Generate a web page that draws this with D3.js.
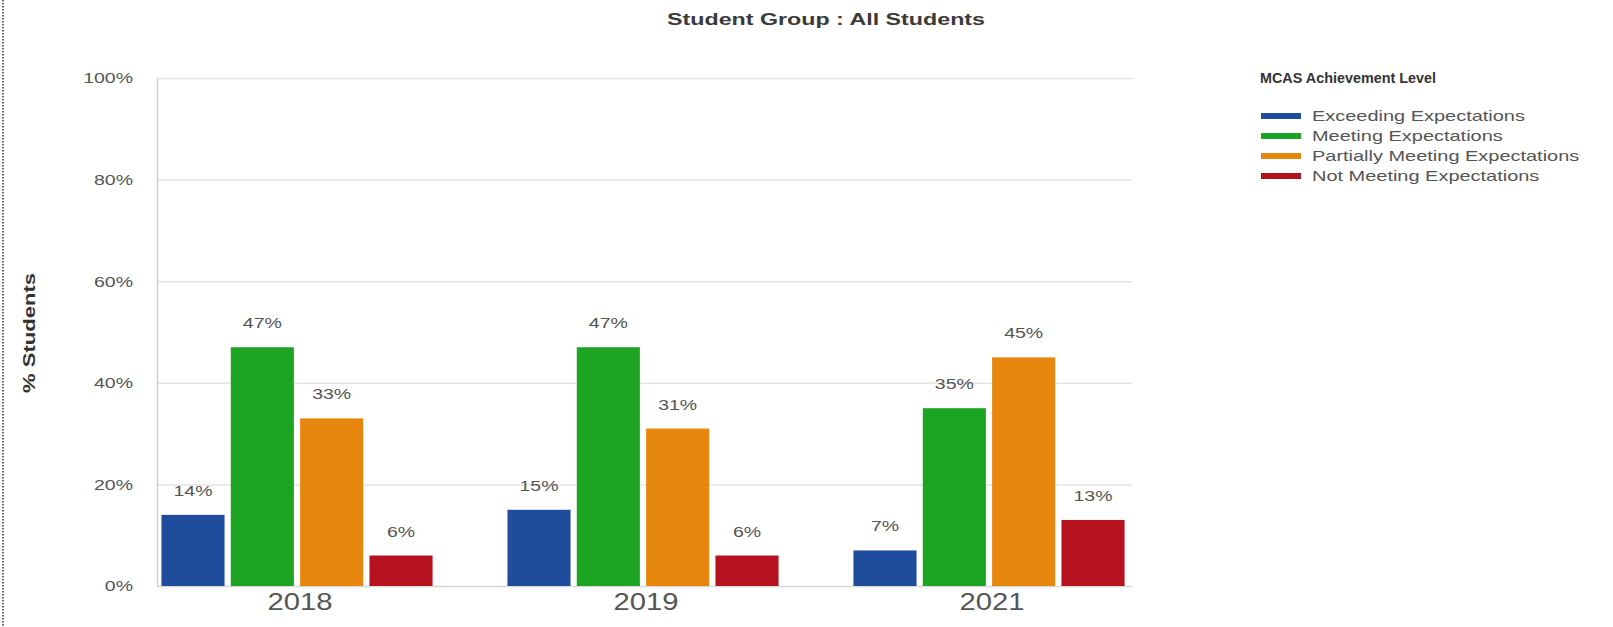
<!DOCTYPE html>
<html>
<head>
<meta charset="utf-8">
<script src="https://cdn.jsdelivr.net/npm/d3@7"></script>
<style>
  html, body { margin: 0; padding: 0; background: #fff; }
  svg { display: block; font-family: "Liberation Sans", Arial, sans-serif; }
</style>
</head>
<body>
<svg id="chart" width="1613" height="627"></svg>
<script>
// Achievement levels (legend order) and their colours
const levels = ["Exceeding Expectations", "Meeting Expectations", "Partially Meeting Expectations", "Not Meeting Expectations"];
const levelColors = ["#1f4c9c", "#1ea423", "#e8870e", "#b5111f"];

// Test years
const years = ["2018", "2019", "2021"];

// Percent of students at each level, per year
const exceeding = [14, 15, 7];
const meeting = [47, 47, 35];
const partially = [33, 31, 45];
const notMeeting = [6, 6, 13];

const yTicks = [0, 20, 40, 60, 80, 100];

const title = "Student Group : All Students";
const yLabel = "% Students";
const legendTitle = "MCAS Achievement Level";

const seriesValues = [exceeding, meeting, partially, notMeeting];

const svg = d3.select("#chart");

// widen a text element horizontally around its anchor
function widen(sel, factor) {
  sel.each(function () {
    const len = this.getComputedTextLength();
    d3.select(this).attr("textLength", len * factor).attr("lengthAdjust", "spacingAndGlyphs");
  });
}

const plot = { left: 157, right: 1132, top: 78, bottom: 586 };

const y = d3.scaleLinear().domain([0, 100]).range([plot.bottom, plot.top]);
const x0 = d3.scaleBand().domain(years).range([124, 1162]);
const x1 = d3.scaleBand().domain(levels).range([0, x0.bandwidth()]).paddingInner(0.09).paddingOuter(0.54);
const color = d3.scaleOrdinal().domain(levels).range(levelColors);

// dotted page edge
svg.append("line")
  .attr("x1", 3).attr("x2", 3).attr("y1", 0).attr("y2", 627)
  .attr("stroke", "#333").attr("stroke-width", 1.5).attr("stroke-dasharray", "1.5,1.5");

// title
svg.append("text")
  .attr("x", 826).attr("y", 25)
  .attr("text-anchor", "middle")
  .attr("font-size", 16).attr("font-weight", "bold").attr("fill", "#3a3a3a")
  .text(title)
  .attr("textLength", 318).attr("lengthAdjust", "spacingAndGlyphs");

// gridlines
svg.append("g").selectAll("line").data(yTicks.filter(d => d > 0)).join("line")
  .attr("x1", plot.left).attr("x2", plot.right)
  .attr("y1", d => y(d) + 0.5).attr("y2", d => y(d) + 0.5)
  .attr("stroke", "#e4e4e4").attr("stroke-width", 1.5);

// y axis
const yAxis = svg.append("g")
  .attr("transform", `translate(${plot.left},0)`)
  .call(d3.axisLeft(y).tickValues(yTicks).tickSize(0).tickPadding(24).tickFormat(d => d + "%"));
yAxis.select(".domain").attr("stroke", "#cfcfcf").attr("stroke-width", 1.5);
yAxis.selectAll("text").attr("font-size", 15).attr("fill", "#555").attr("font-family", null).call(widen, 1.3);

// x axis
const xAxis = svg.append("g")
  .attr("transform", `translate(0,${plot.bottom})`)
  .call(d3.axisBottom(x0).tickSize(0).tickPadding(8));
xAxis.select(".domain").remove();
svg.append("line")
  .attr("x1", plot.left).attr("x2", plot.right)
  .attr("y1", plot.bottom + 0.5).attr("y2", plot.bottom + 0.5)
  .attr("stroke", "#d8d8d8").attr("stroke-width", 1.5);
xAxis.selectAll("text").attr("font-size", 23).attr("fill", "#555").attr("font-family", null)
  .attr("dx", 3).call(widen, 1.27);

// y axis title
svg.append("text")
  .attr("transform", `translate(35,333) rotate(-90)`)
  .attr("text-anchor", "middle")
  .attr("font-size", 17).attr("font-weight", "bold").attr("fill", "#333")
  .text(yLabel)
  .attr("textLength", 120).attr("lengthAdjust", "spacingAndGlyphs");

// bars
const rows = years.map((yr, i) => ({ year: yr, values: levels.map((lv, j) => ({ level: lv, value: seriesValues[j][i] })) }));

const groups = svg.append("g").selectAll("g").data(rows).join("g")
  .attr("transform", d => `translate(${x0(d.year)},0)`);

groups.selectAll("rect").data(d => d.values).join("rect")
  .attr("x", d => x1(d.level))
  .attr("width", x1.bandwidth())
  .attr("y", d => y(d.value))
  .attr("height", d => y(0) - y(d.value))
  .attr("fill", d => color(d.level));

groups.selectAll("text").data(d => d.values).join("text")
  .attr("x", d => x1(d.level) + x1.bandwidth() / 2)
  .attr("y", d => y(d.value) - 19)
  .attr("text-anchor", "middle")
  .attr("font-size", 15).attr("fill", "#555")
  .text(d => d.value + "%").call(widen, 1.3);

// legend
const legend = svg.append("g").attr("transform", "translate(1258,0)");
legend.append("text")
  .attr("x", 2).attr("y", 83)
  .attr("font-size", 14).attr("font-weight", "bold").attr("fill", "#333")
  .text(legendTitle)
  .attr("textLength", 176).attr("lengthAdjust", "spacingAndGlyphs");

const items = legend.selectAll("g.item").data(levels).join("g")
  .attr("class", "item")
  .attr("transform", (d, i) => `translate(0,${116 + i * 20})`);
items.append("rect")
  .attr("x", 3).attr("y", -3).attr("width", 40).attr("height", 6)
  .attr("fill", d => color(d));
items.append("text")
  .attr("x", 54).attr("y", 5)
  .attr("font-size", 15).attr("fill", "#555")
  .text(d => d).call(widen, 1.33);
</script>
</body>
</html>
